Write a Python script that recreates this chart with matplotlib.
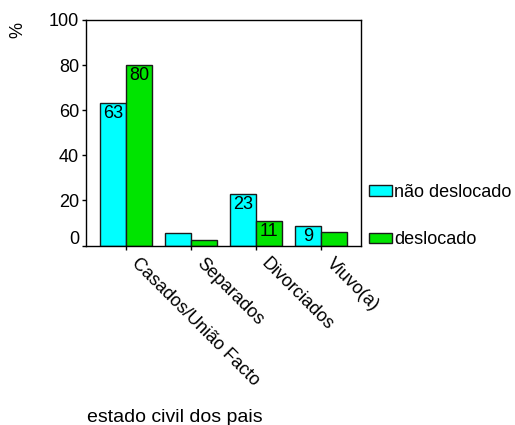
import numpy as np
import matplotlib
matplotlib.use("Agg")
import matplotlib.pyplot as plt
import matplotlib.transforms as mtransforms

plt.rcParams['font.family'] = ['Liberation Sans', 'DejaVu Sans']

# dados ---------------------------------------------------------------
categorias = ["Casados/União Facto", "Separados", "Divorciados", "Viuvo(a)"]
nao_deslocado = [63, 5.4, 23, 8.5]
deslocado = [80, 2.4, 11, 6]
rotulos_nao = ["63", "", "23", "9"]
rotulos_des = ["80", "", "11", ""]

cor_nao = "#00ffff"
cor_des = "#00e400"
fs = 13

# figura --------------------------------------------------------------
fig = plt.figure(figsize=(5.15, 4.25), dpi=100)
ax = fig.add_axes([86/515, 1-245.6/425, 275/515, 225.6/425])

x = np.arange(len(categorias))
w = 0.4
b1 = ax.bar(x - w/2, nao_deslocado, w, color=cor_nao, edgecolor="#1a1a1a", lw=1, label="não deslocado")
b2 = ax.bar(x + w/2, deslocado, w, color=cor_des, edgecolor="#1a1a1a", lw=1, label="deslocado")

# rótulos dentro das barras
for rects, labs in ((b1, rotulos_nao), (b2, rotulos_des)):
    for r, lab in zip(rects, labs):
        if lab:
            ax.text(r.get_x() + r.get_width()/2, r.get_height() - 0.8, lab,
                    ha="center", va="top", fontsize=fs)

ax.set_xlim(-0.615, 3.615)
ax.set_ylim(0, 100)
ax.set_yticks([0, 20, 40, 60, 80, 100])
ax.set_xticks(x)
ax.set_xticklabels(categorias, rotation=-45, ha="left", va="center",
                   rotation_mode="anchor", fontsize=fs)
ax.tick_params(axis="y", labelsize=fs, length=3, width=1, pad=2)
ax.tick_params(axis="x", length=3, width=1, pad=8)
for s in ax.spines.values():
    s.set_linewidth(1)

# deslocar rótulos do eixo x um pouco para a direita
desloc = mtransforms.ScaledTranslation(8/100, 0, fig.dpi_scale_trans)
for lab in ax.get_xticklabels():
    lab.set_transform(lab.get_transform() + desloc)

# o "0" aparece um pouco acima
lab0 = ax.get_yticklabels()[0]
lab0.set_transform(lab0.get_transform() + mtransforms.ScaledTranslation(0, 8/100, fig.dpi_scale_trans))

fig.text(18/515, 1-30/425, "%", rotation=90, ha="center", va="center", fontsize=fs)
fig.text(87/515, 1-418/425, "estado civil dos pais", ha="left", va="center", fontsize=14)

fig.legend(loc="upper left", bbox_to_anchor=(369/515, 1-184/425), frameon=False,
           fontsize=fs, handlelength=1.28, handleheight=0.55, handletextpad=0.12,
           labelspacing=1.68, borderpad=0, borderaxespad=0)

fig.savefig("out.png", dpi=100)
